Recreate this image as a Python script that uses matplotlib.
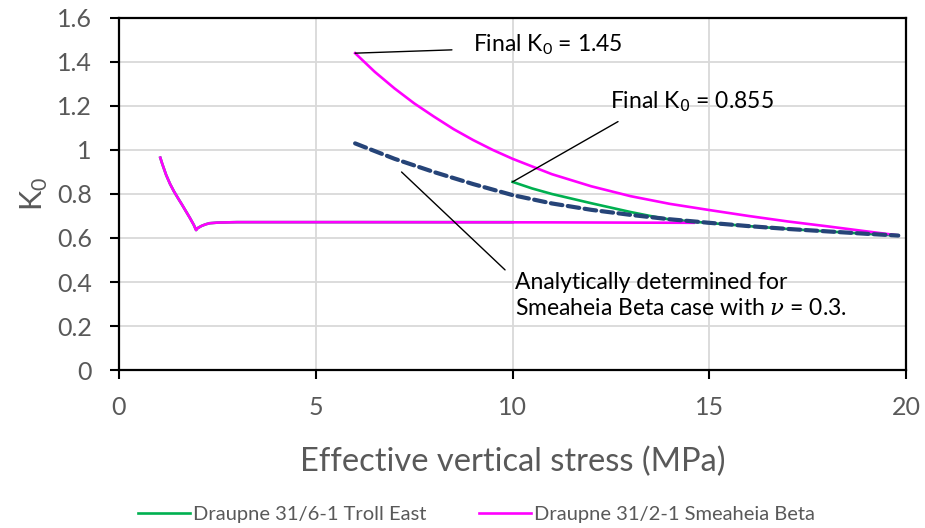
import matplotlib
matplotlib.use('Agg')
import matplotlib.pyplot as plt

plt.rcParams['font.family'] = ['Lato', 'DejaVu Sans']
plt.rcParams['mathtext.fontset'] = 'custom'
plt.rcParams['mathtext.rm'] = 'Lato'
plt.rcParams['mathtext.it'] = 'DejaVu Serif:italic'

# Draupne 31/6-1 Troll East (loading path, then unloading from 10 MPa)
troll_x = [1.05, 1.1, 1.2, 1.3, 1.4, 1.5, 1.6, 1.7, 1.8, 1.9, 1.96, 2.0, 2.1, 2.2, 2.3, 2.5, 3.0, 6.0, 10.0]
troll_y = [0.965, 0.937, 0.886, 0.845, 0.811, 0.781, 0.752, 0.722, 0.692, 0.660, 0.636,
           0.645, 0.655, 0.662, 0.667, 0.670, 0.672, 0.672, 0.672]
troll_unload_x = [10.0, 10.5, 11.0, 11.5, 12.0, 12.5, 13.0, 13.5, 14.0, 15.0, 16.0, 17.0, 18.0, 19.0, 19.8]
troll_unload_y = [0.855, 0.825, 0.80, 0.779, 0.758, 0.738, 0.718, 0.70, 0.684, 0.668,
                  0.654, 0.641, 0.630, 0.619, 0.611]

# Draupne 31/2-1 Smeaheia Beta
smea_x = [1.05, 1.1, 1.2, 1.3, 1.4, 1.5, 1.6, 1.7, 1.8, 1.9, 1.96, 2.0, 2.1, 2.2, 2.3, 2.5, 3.0, 6.0, 11.0, 14.6]
smea_y = [0.965, 0.937, 0.886, 0.845, 0.811, 0.781, 0.752, 0.722, 0.692, 0.660, 0.636,
          0.645, 0.655, 0.662, 0.667, 0.670, 0.672, 0.672, 0.671, 0.669]
smea_unload_x = [6.0, 6.5, 7.0, 7.5, 8.0, 8.5, 9.0, 9.5, 10.0, 11.0, 12.0, 13.0, 14.0,
                 15.0, 16.0, 17.0, 18.0, 19.0, 19.8]
smea_unload_y = [1.44, 1.355, 1.28, 1.212, 1.152, 1.095, 1.045, 1.0, 0.96, 0.89, 0.835,
                 0.79, 0.755, 0.727, 0.70, 0.675, 0.653, 0.630, 0.612]

# Analytical solution, Smeaheia Beta, nu = 0.3
ana_x = [6.0, 7.0, 8.0, 9.0, 10.0, 11.0, 12.0, 13.0, 14.0, 15.0, 16.0, 17.0, 18.0, 19.0, 19.8]
ana_y = [1.03, 0.96, 0.90, 0.845, 0.795, 0.757, 0.728, 0.705, 0.685, 0.669, 0.654,
         0.641, 0.630, 0.619, 0.611]

green = '#00B050'
magenta = '#FF00FF'
navy = '#264478'
grey = '#595959'

fig = plt.figure(figsize=(9.25, 5.28), dpi=100)
ax = fig.add_axes([0.1286, 0.2992, 0.851, 0.6668])

ax.plot(troll_x, troll_y, color=green, lw=1.9, label='Draupne 31/6-1 Troll East')
ax.plot(troll_unload_x, troll_unload_y, color=green, lw=1.9)
ax.plot(smea_x, smea_y, color=magenta, lw=1.9, label='Draupne 31/2-1 Smeaheia Beta')
ax.plot(smea_unload_x, smea_unload_y, color=magenta, lw=1.9)
ax.plot(ana_x, ana_y, color=navy, lw=3, ls=(0, (2.8, 1.3)), dash_capstyle='round')

ax.set_xlim(0, 20)
ax.set_ylim(0, 1.6)
ax.set_xticks([0, 5, 10, 15, 20])
ax.set_yticks([0, 0.2, 0.4, 0.6, 0.8, 1.0, 1.2, 1.4, 1.6])
ax.set_yticklabels(['0', '0.2', '0.4', '0.6', '0.8', '1', '1.2', '1.4', '1.6'])
ax.grid(True, color='#D9D9D9', lw=1.3)
ax.set_axisbelow(True)
for s in ax.spines.values():
    s.set_color('black')
    s.set_linewidth(1.6)
ax.tick_params(axis='both', direction='out', length=6.5, width=1.5, color='black',
               labelcolor=grey, labelsize=18)
ax.tick_params(axis='x', pad=12)
ax.tick_params(axis='y', pad=13)

ax.set_xlabel('Effective vertical stress (MPa)', fontsize=23.5, color=grey, labelpad=20)
ax.set_ylabel('K$_0$', fontsize=22, color=grey, labelpad=5)

# leader lines and labels
ax.annotate('', xy=(6.0, 1.44), xytext=(8.46, 1.455),
            arrowprops=dict(arrowstyle='-', color='black', lw=1, shrinkA=0, shrinkB=0))
ax.text(9.0, 1.477, 'Final K$_0$ = 1.45', fontsize=16.5, va='center', ha='left')

ax.annotate('', xy=(10.0, 0.855), xytext=(12.68, 1.129),
            arrowprops=dict(arrowstyle='-', color='black', lw=1, shrinkA=0, shrinkB=0))
ax.text(12.48, 1.218, 'Final K$_{\\mathsf{0}}$ = 0.855', fontsize=16.5, va='center', ha='left')

ax.annotate('', xy=(7.18, 0.90), xytext=(9.81, 0.455),
            arrowprops=dict(arrowstyle='-', color='black', lw=1, shrinkA=0, shrinkB=0))
ax.text(10.06, 0.339, 'Analytically determined for\nSmeaheia Beta case with $\\nu$ = 0.3.',
        fontsize=16.5, va='center', ha='left', linespacing=1.3)

fig.legend(loc='center', bbox_to_anchor=(0.515, 0.025), ncol=2, frameon=False,
           fontsize=14.5, labelcolor=grey, handlelength=2.6, handletextpad=0.15,
           columnspacing=2.6)

fig.savefig('out.png', dpi=100)
